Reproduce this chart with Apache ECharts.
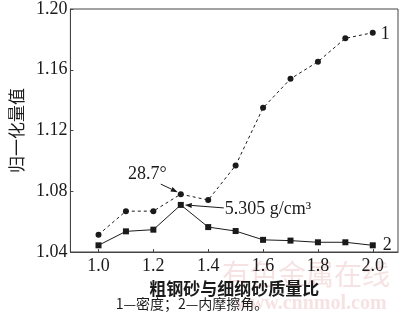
<!DOCTYPE html>
<html><head><meta charset="utf-8">
<script src="https://cdn.jsdelivr.net/npm/echarts@6/dist/echarts.min.js"></script>
<style>html,body{margin:0;padding:0;background:#fff}#c{width:400px;height:315px}</style>
</head><body><div id="c"></div>
<script>
const ratios = [1.0, 1.1, 1.2, 1.3, 1.4, 1.5, 1.6, 1.7, 1.8, 1.9, 2.0];
const density = [1.0514, 1.0669, 1.0669, 1.0781, 1.0742, 1.0970, 1.1349, 1.1540, 1.1653, 1.1807, 1.1844];
const friction = [1.0444, 1.0536, 1.0547, 1.0710, 1.0564, 1.0538, 1.0480, 1.0475, 1.0464, 1.0464, 1.0444];
const xTicks = [1.0, 1.2, 1.4, 1.6, 1.8, 2.0];
const seriesNames = ['1', '2'];
const annoDensity = '28.7°';
const annoFriction = '5.305 g/cm³';
const xTitle = '粗钢砂与细纲砂质量比';
const yTitle = '归一化量值';
const caption = '1—密度；2—内摩擦角。';

const serif = '"Liberation Serif","Times New Roman",serif';
const cjk = '"Noto Sans CJK SC",sans-serif';
const ink = '#1a1a1a';
const chart = echarts.init(document.getElementById('c'));
const pairs = (ys) => ratios.map((x, i) => [x, ys[i]]);
chart.setOption({
  animation: false,
  grid: {left: 60, right: 2, top: 6, bottom: 63, show: true, borderColor: '#444', borderWidth: 1},
  xAxis: {
    type: 'value', min: 0.8975, max: 2.092,
    name: xTitle, nameLocation: 'middle', nameGap: 25,
    nameTextStyle: {fontFamily: cjk, fontSize: 17, color: ink, fontWeight: 'bold'},
    axisLine: {lineStyle: {color: '#444'}},
    axisTick: {inside: true, length: 3, customValues: xTicks, lineStyle: {color: '#444'}},
    axisLabel: {customValues: xTicks, formatter: v => v.toFixed(1), fontFamily: serif, fontSize: 18, color: ink, margin: 5},
    splitLine: {show: false}
  },
  yAxis: {
    type: 'value', min: 1.04, max: 1.20, interval: 0.04,
    name: yTitle, nameLocation: 'middle', nameGap: 43, nameRotate: 90,
    nameTextStyle: {fontFamily: cjk, fontSize: 17, color: ink},
    axisLine: {lineStyle: {color: '#444'}},
    axisTick: {inside: true, length: 3, lineStyle: {color: '#444'}},
    axisLabel: {formatter: v => v.toFixed(2), fontFamily: serif, fontSize: 18, color: ink, margin: 3},
    splitLine: {show: false}
  },
  series: [
    {name: seriesNames[0], type: 'line', data: pairs(density), symbol: 'circle', symbolSize: 6,
     itemStyle: {color: ink}, lineStyle: {color: ink, width: 1, type: [3, 3]},
     endLabel: {show: true, formatter: seriesNames[0], fontFamily: serif, fontSize: 18, color: ink, offset: [0, 2]}},
    {name: seriesNames[1], type: 'line', data: pairs(friction), symbol: 'rect', symbolSize: 6,
     itemStyle: {color: ink}, lineStyle: {color: ink, width: 1},
     endLabel: {show: true, formatter: seriesNames[1], fontFamily: serif, fontSize: 18, color: ink, offset: [2, 0]}}
  ]
});

function arrow(from, to) {
  const ang = Math.atan2(to[1] - from[1], to[0] - from[0]);
  const L = 7, W = 2.5;
  const bx = to[0] - L * Math.cos(ang), by = to[1] - L * Math.sin(ang);
  const px = -Math.sin(ang) * W, py = Math.cos(ang) * W;
  return [
    {type: 'line', shape: {x1: from[0], y1: from[1], x2: bx, y2: by}, style: {stroke: ink, lineWidth: 1}},
    {type: 'polygon', shape: {points: [[to[0], to[1]], [bx + px, by + py], [bx - px, by - py]]}, style: {fill: ink}}
  ];
}
const p1 = chart.convertToPixel({gridIndex: 0}, [ratios[3], density[3]]);
const p2 = chart.convertToPixel({gridIndex: 0}, [ratios[3], friction[3]]);
const gfx = [];
gfx.push(...arrow([p1[0] - 20, p1[1] - 10], [p1[0] - 3, p1[1] - 2]));
gfx.push(...arrow([p2[0] + 43, p2[1] + 3], [p2[0] + 4, p2[1]]));
gfx.push({type: 'text', style: {text: annoDensity, x: p1[0] - 14, y: p1[1] - 20, align: 'right', verticalAlign: 'middle', font: '18px ' + serif, fill: ink}});
gfx.push({type: 'text', style: {text: annoFriction, x: p2[0] + 44, y: p2[1] + 4, align: 'left', verticalAlign: 'middle', font: '18px ' + serif, fill: ink}});
gfx.push({type: 'text', style: {text: caption, x: 192, y: 304, align: 'center', verticalAlign: 'middle', font: '14px ' + cjk, fill: ink}});
gfx.push({type: 'text', z: -1, style: {text: '有色金属在线', x: 306, y: 274, align: 'center', verticalAlign: 'middle', font: '28px ' + cjk, fill: 'rgba(220,140,140,0.25)'}});
gfx.push({type: 'text', z: -1, style: {text: 'www.cnnmol.com', x: 311, y: 304, align: 'center', verticalAlign: 'middle', font: 'bold 20px ' + serif, fill: 'rgba(220,140,140,0.25)'}});
chart.setOption({graphic: gfx});
</script></body></html>
